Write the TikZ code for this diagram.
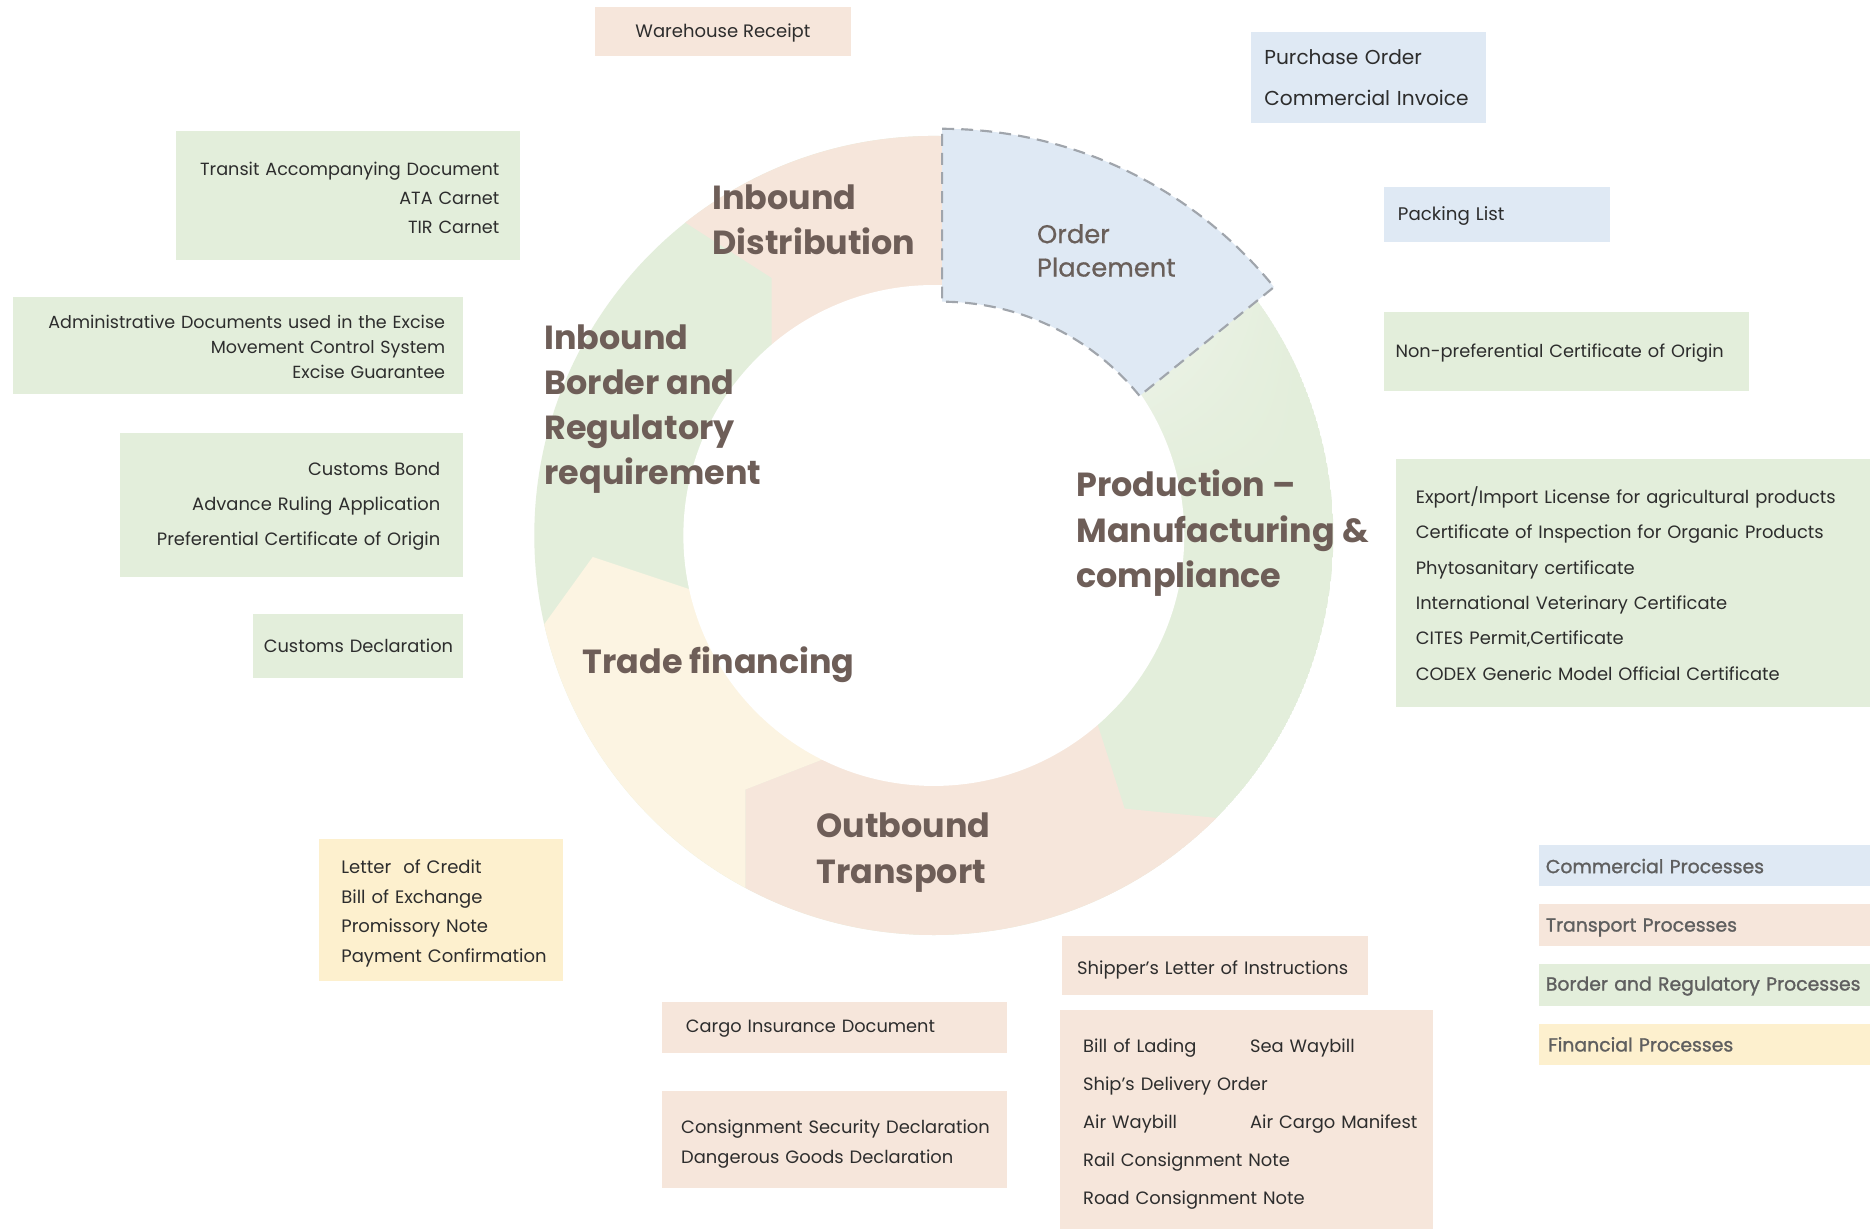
\documentclass[tikz,border=0pt]{standalone}
\usepackage{fontspec}
\usetikzlibrary{shadings}
\setmainfont{Poppins}
\newfontfamily\medfont[FakeBold=0.6]{Poppins}
\newfontfamily\semifont[FakeBold=1.3]{Poppins}
\definecolor{rgreen}{RGB}{227,238,219}
\definecolor{rpeach}{RGB}{246,230,219}
\definecolor{rcream}{RGB}{252,244,226}
\definecolor{rblue}{RGB}{223,233,244}
\definecolor{byellow}{RGB}{253,240,206}
\definecolor{headc}{RGB}{110,94,88}
\definecolor{orderc}{RGB}{105,95,90}
\definecolor{txtc}{RGB}{45,45,45}
\definecolor{legc}{RGB}{95,95,95}
\definecolor{dashc}{RGB}{160,165,172}
\definecolor{lgreen}{RGB}{241,245,237}
\begin{document}
\begin{tikzpicture}[x=1pt,y=-1pt,
  box/.style={rectangle, anchor=north west, inner ysep=0pt, text=txtc},
  sh/.style={execute at begin node={\rule{0pt}{#1pt}}},
  head/.style={anchor=west, align=left, text=headc, font=\bfseries\fontsize{28}{38}\selectfont},
  legbox/.style={box, minimum width=278pt, minimum height=35pt, inner xsep=6pt, text width=266pt, align=left, text=legc, font=\semifont\fontsize{15.8}{18}\selectfont}
]
\useasboundingbox (0,0) rectangle (1568,1030);
\fill[white] (0,0) rectangle (1568,1030);

% ---- ring ----
\begin{scope}
  \clip (783,449) circle (335);
  \fill[rgreen] (783,449) circle (335);
  \shade[upper left=lgreen, upper right=rgreen, lower left=rgreen, lower right=rgreen] (945,245) rectangle (1090,410);
  \fill[rpeach] (647,300) -- (647,233) -- (530,158) -- (530,60) -- (792,60) -- (792,300) -- cycle;
  \fill[rpeach] (720,625) -- (905,560) -- (943,678) -- (1080,692) -- (1080,850) -- (625,850) -- (625,662) -- cycle;
  \fill[rcream] (430,560) -- (497,467) -- (650,518) -- (720,625) -- (625,662) -- (625,850) -- (380,850) -- cycle;
\end{scope}
\fill[white] (783,449) circle (210);
\path[draw=dashc, line width=1.8pt, dash pattern=on 10pt off 6pt, fill=rblue]
  (790,466) ++(-90:358) arc[start angle=-90, end angle=-39, radius=358]
  -- ([shift={(-39:213)}]790,466) arc[start angle=-39, end angle=-90, radius=213] -- cycle;

% ---- ring labels ----
\node[anchor=west, align=left, text=orderc, font=\medfont\fontsize{21.6}{28}\selectfont] (op) at (866,210) {Order\\Placement};
\node[head] (idist) at (594,184) {Inbound\\Distribution};
\node[head] (iborder) at (453,343) {Inbound\\Border and\\Regulatory\\requirement};
\node[head] (prod) at (899,447) {Production --\\Manufacturing \&\\compliance};
\node[head] (tfin) at (485,557) {Trade financing};
\node[head, font=\bfseries\fontsize{28}{39}\selectfont] (otr) at (681,715) {Outbound\\Transport};

% ---- document boxes ----
\node[box, fill=rpeach, minimum width=214pt, minimum height=41pt, inner xsep=0pt, sh=14, font=\fontsize{15.1}{18}\selectfont] (wr) at (499,6) {\makebox[214pt]{Warehouse Receipt}};
\node[box, fill=rblue, minimum width=197pt, minimum height=76pt, inner xsep=11pt, text width=175pt, align=left, font=\fontsize{16.9}{35}\selectfont] (po) at (1049,27) {\mbox{Purchase Order}\\\mbox{Commercial Invoice}};
\node[box, fill=rblue, minimum width=190pt, minimum height=46pt, inner xsep=12pt, text width=166pt, align=left, sh=14, font=\fontsize{15.3}{18}\selectfont] (pl) at (1160,157) {Packing List};
\node[box, fill=rgreen, minimum width=306pt, minimum height=67pt, inner xsep=10pt, text width=286pt, align=left, sh=14, font=\fontsize{14.9}{18}\selectfont] (npc) at (1160,261) {\mbox{Non-preferential Certificate of Origin}};
\node[box, fill=rgreen, minimum width=398pt, minimum height=208pt, inner xsep=17pt, text width=364pt, align=left, font=\fontsize{15}{29.6}\selectfont] (eil) at (1170,385)
  {\mbox{Export/Import License for agricultural products}\\\mbox{Certificate of Inspection for Organic Products}\\Phytosanitary certificate\\International Veterinary Certificate\\CITES Permit,Certificate\\\mbox{CODEX Generic Model Official Certificate}};
\node[box, fill=rgreen, minimum width=289pt, minimum height=108pt, inner xsep=15pt, text width=254pt, align=right, sh=15, font=\fontsize{14.8}{24.5}\selectfont] (tad) at (147,110) {\mbox{Transit Accompanying Document}\\ATA Carnet\\TIR Carnet};
\node[box, fill=rgreen, minimum width=377pt, minimum height=81pt, inner xsep=15pt, text width=347pt, align=right, sh=14, font=\fontsize{14.7}{21}\selectfont] (adm) at (11,249) {\mbox{Administrative Documents used in the Excise}\\Movement Control System\\Excise Guarantee};
\node[box, fill=rgreen, minimum width=288pt, minimum height=121pt, inner xsep=19pt, text width=250pt, align=right, sh=12.5, font=\fontsize{15}{29.5}\selectfont] (cb) at (100,363) {Customs Bond\\Advance Ruling Application\\\mbox{Preferential Certificate of Origin}};
\node[box, fill=rgreen, minimum width=176pt, minimum height=53pt, inner xsep=9pt, text width=158pt, align=left, font=\fontsize{14.95}{18}\selectfont] (cd) at (212,515) {\mbox{Customs Declaration}};
\node[box, fill=byellow, minimum width=205pt, minimum height=119pt, inner xsep=19pt, text width=167pt, align=left, sh=18, font=\fontsize{15.1}{25}\selectfont] (lc) at (267,703) {Letter~ of Credit\\Bill of Exchange\\Promissory Note\\\mbox{Payment Confirmation}};
\node[box, fill=rpeach, minimum width=289pt, minimum height=43pt, inner xsep=20pt, text width=249pt, align=left, sh=12.5, font=\fontsize{14.9}{18}\selectfont] (cid) at (555,840) {Cargo Insurance Document};
\node[box, fill=rpeach, minimum width=289pt, minimum height=81pt, inner xsep=16pt, text width=257pt, align=left, sh=18, font=\fontsize{15}{25}\selectfont] (csd) at (555,915) {\mbox{Consignment Security Declaration}\\\mbox{Dangerous Goods Declaration}};
\node[box, fill=rpeach, minimum width=257pt, minimum height=49pt, inner xsep=13pt, text width=231pt, align=left, sh=18, font=\fontsize{15.05}{18}\selectfont] (sli) at (890,785) {\mbox{Shipper's Letter of Instructions}};
\node[box, fill=rpeach, minimum width=312pt, minimum height=183pt, inner xsep=19pt, text width=274pt, align=left, sh=19, font=\fontsize{15}{32}\selectfont] (bol) at (889,847)
  {\mbox{\makebox[140pt][l]{Bill of Lading}Sea Waybill}\\Ship's Delivery Order\\\mbox{\makebox[140pt][l]{Air Waybill}Air Cargo Manifest}\\Rail Consignment Note\\Road Consignment Note};

% ---- legend ----
\node[legbox, fill=rblue, sh=13] (lg1) at (1290,708) {Commercial Processes};
\node[legbox, fill=rpeach, sh=15] (lg2) at (1290,758) {Transport Processes};
\node[legbox, fill=rgreen, sh=14] (lg3) at (1290,808) {\mbox{Border and Regulatory Processes}};
\node[legbox, fill=byellow, inner xsep=8pt, text width=262pt, sh=12] (lg4) at (1290,858) {Financial Processes};
\end{tikzpicture}
\end{document}
